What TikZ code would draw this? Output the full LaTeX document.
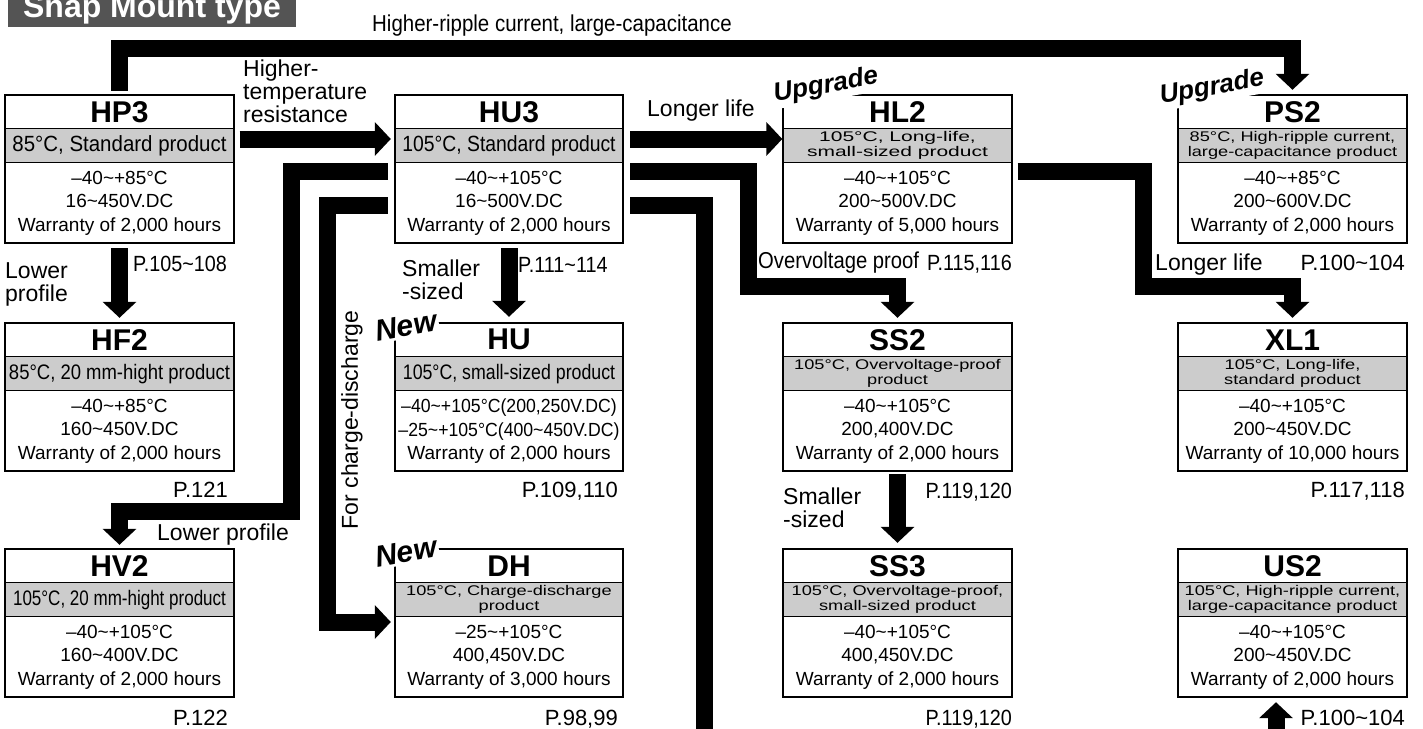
\documentclass[tikz,border=0pt]{standalone}
\usepackage{fontspec}
\setmainfont{Liberation Sans}
\usepackage{graphicx}
\usetikzlibrary{arrows.meta}

\definecolor{bandgray}{gray}{0.80}
\definecolor{tabgray}{gray}{0.33}

\newcommand{\wave}{\textasciitilde}
\newcommand{\cond}[2]{\scalebox{#1}[1]{#2}}
\newcommand{\duo}[3]{{\fontsize{14}{15}\selectfont\scalebox{#1}[1]{\begin{tabular}{@{}c@{}}#2\\#3\end{tabular}}}}

% one product box: name, centre, title, grey band, body
\newcommand{\capseries}[5]{%
  \node[capbox] (#1) at (#2) {};
  \fill[bandgray] ([yshift=-34pt]#1.north west) rectangle ([yshift=-68pt]#1.north east);
  \draw[rule] ([yshift=-34pt]#1.north west) -- ([yshift=-34pt]#1.north east);
  \draw[rule] ([yshift=-68pt]#1.north west) -- ([yshift=-68pt]#1.north east);
  \node[titletext] (#1 title) at ([yshift=-17pt]#1.north) {#3};
  \node[bandtext] (#1 band) at ([yshift=-51pt]#1.north) {#4};
  \node[bodytext] (#1 body) at ([yshift=40pt]#1.south) {#5};
  \draw[frame] (#1.north west) rectangle (#1.south east);
}

% slanted badge on a white patch: name, position, size, text
\newcommand{\stamp}[4]{%
  \node[badge, font=\fontsize{#3}{#3}\selectfont\bfseries\itshape] (#1) at (#2) {#4};
}

\tikzset{
  capbox/.style={minimum width=228pt, minimum height=148pt, inner sep=0pt, fill=white},
  frame/.style={line width=2.2pt},
  rule/.style={line width=0.9pt},
  titletext/.style={font=\fontsize{30}{30}\selectfont\bfseries, inner sep=0pt},
  bandtext/.style={font=\fontsize{21}{21}\selectfont, inner sep=0pt},
  bodytext/.style={font=\fontsize{19}{23.5}\selectfont, align=center, inner sep=0pt},
  lbl/.style={font=\fontsize{23}{23}\selectfont, inner sep=0pt},
  pageref/.style={font=\fontsize{22}{22}\selectfont, inner sep=0pt},
  heading/.style={font=\fontsize{32}{32}\selectfont\bfseries, text=white, inner sep=0pt},
  badge/.style={inner sep=2pt, rotate=10, fill=white},
  flow/.style={line width=17pt, line join=miter, -{Triangle[width=33pt,length=16pt]}},
  bar/.style={line width=17pt, line join=miter},
}

\begin{document}
\begin{tikzpicture}[x=1pt,y=1pt]
\path[use as bounding box] (0,0) rectangle (1423,-728);
\clip (0,0) rectangle (1423,-728);

% heading tab
\fill[tabgray] (8,8) rectangle (296,-27);
\node[heading, anchor=base] (heading) at (152,-17.5) {Snap Mount type};

% boxes
\capseries{hp3}{119.5,-169}{HP3}{\cond{0.93}{\fontsize{22}{22}\selectfont 85°C, Standard product}}
  {–40\wave+85°C\\16\wave450V.DC\\Warranty of 2,000 hours}
\capseries{hu3}{509,-169}{HU3}{\cond{0.88}{\fontsize{22}{22}\selectfont 105°C, Standard product}}
  {–40\wave+105°C\\16\wave500V.DC\\Warranty of 2,000 hours}
\capseries{hl2}{897.5,-169}{HL2}{\duo{1.5}{105°C, Long-life,}{small-sized product}}
  {–40\wave+105°C\\200\wave500V.DC\\Warranty of 5,000 hours}
\capseries{ps2}{1292.5,-169}{PS2}{\duo{1.3}{85°C, High-ripple current,}{large-capacitance product}}
  {–40\wave+85°C\\200\wave600V.DC\\Warranty of 2,000 hours}

\capseries{hf2}{119.5,-397}{HF2}{\cond{0.88}{85°C, 20 mm-hight product}}
  {–40\wave+85°C\\160\wave450V.DC\\Warranty of 2,000 hours}
\capseries{hu}{509,-397}{HU}{\cond{0.845}{105°C, small-sized product}}
  {\cond{0.93}{–40\wave+105°C(200,250V.DC)}\\\cond{0.93}{–25\wave+105°C(400\wave450V.DC)}\\Warranty of 2,000 hours}
\capseries{ss2}{897.5,-397}{SS2}{\duo{1.3}{105°C, Overvoltage-proof}{product}}
  {–40\wave+105°C\\200,400V.DC\\Warranty of 2,000 hours}
\capseries{xl1}{1292.5,-397}{XL1}{\duo{1.3}{105°C, Long-life,}{standard product}}
  {–40\wave+105°C\\200\wave450V.DC\\Warranty of 10,000 hours}

\capseries{hv2}{119.5,-623}{HV2}{\cond{0.81}{105°C, 20 mm-hight product}}
  {–40\wave+105°C\\160\wave400V.DC\\Warranty of 2,000 hours}
\capseries{dh}{509,-623}{DH}{\duo{1.3}{105°C, Charge-discharge}{product}}
  {–25\wave+105°C\\400,450V.DC\\Warranty of 3,000 hours}
\capseries{ss3}{897.5,-623}{SS3}{\duo{1.3}{105°C, Overvoltage-proof,}{small-sized product}}
  {–40\wave+105°C\\400,450V.DC\\Warranty of 2,000 hours}
\capseries{us2}{1292.5,-623}{US2}{\duo{1.3}{105°C, High-ripple current,}{large-capacitance product}}
  {–40\wave+105°C\\200\wave450V.DC\\Warranty of 2,000 hours}

% bends of the thick connectors
\coordinate (ripple) at (700,-48.5);
\coordinate (lowbend) at (291.5,-511);
\coordinate (ovbend) at (748,-286);
\coordinate (lifebend) at (1143.5,-286);
\coordinate (exitdown) at (704,-740);
\coordinate (usfeed) at (1276,-740);

% connectors
\draw[flow] ([yshift=4pt]hp3.north) |- (ripple) -| ([yshift=5pt]ps2.north);
\draw[flow] ([xshift=6pt,yshift=30pt]hp3.east) -- ([xshift=-4pt,yshift=30pt]hu3.west);
\draw[flow] ([yshift=-5pt]hp3.south) -- ([yshift=5pt]hf2.north);
\draw[flow] ([xshift=-7pt,yshift=-2.5pt]hu3.west) -| (lowbend) -| ([yshift=4pt]hv2.north);
\draw[flow] ([xshift=-7pt,yshift=-36pt]hu3.west) -| ([xshift=-67pt,yshift=1pt]dh.west) -- ([xshift=-4pt,yshift=1pt]dh.west);
\draw[flow] ([yshift=-5pt]hu3.south) -- ([yshift=6pt]hu.north);
\draw[flow] ([xshift=7pt,yshift=30pt]hu3.east) -- ([xshift=-1pt,yshift=30pt]hl2.west);
\draw[flow] ([xshift=7pt,yshift=-2.5pt]hu3.east) -| (ovbend) -| ([yshift=5pt]ss2.north);
\draw[bar] ([xshift=7pt,yshift=-36pt]hu3.east) -| (exitdown);
\draw[flow] ([xshift=6pt,yshift=-2.5pt]hl2.east) -| (lifebend) -| ([yshift=5pt]xl1.north);
\draw[flow] ([yshift=-3pt]ss2.south) -- ([yshift=6pt]ss3.north);
\draw[flow] (usfeed) -- ([xshift=-16.5pt,yshift=-5pt]us2.south);

% connector labels
\node[lbl, anchor=base west] (ripple text) at (372,-31.5) {\cond{0.89}{Higher-ripple current, large-capacitance}};
\node[lbl, anchor=north west, align=left] (temp text) at (243,-60) {Higher-\\temperature\\resistance};
\node[lbl, anchor=north west, align=left] (low text) at (5,-262) {Lower\\profile};
\node[lbl, anchor=north west, align=left] (small text) at (402,-260) {Smaller\\-sized};
\node[lbl, anchor=north west, align=left] (small2 text) at (783,-488) {Smaller\\-sized};
\node[lbl, anchor=base west] (life text) at (647,-116) {Longer life};
\node[lbl, anchor=base west] (life2 text) at (1155,-270) {Longer life};
\node[lbl, anchor=base west] (over text) at (758,-268) {\cond{0.88}{Overvoltage proof}};
\node[lbl, anchor=base west] (low2 text) at (157,-540) {Lower profile};
\node[lbl, rotate=90] (charge text) at (352,-420) {For charge-discharge};

% page references
\node[pageref, anchor=base west] (hp3 page) at (133,-271) {\cond{0.9}{P.105\wave108}};
\node[pageref, anchor=base west] (hu3 page) at (518,-272) {\cond{0.9}{P.111\wave114}};
\node[pageref, anchor=base east] (hl2 page) at (1012,-270) {\cond{0.9}{P.115,116}};
\node[pageref, anchor=base east] (ps2 page) at (1405,-270) {P.100\wave104};
\node[pageref, anchor=base east] (hf2 page) at (228,-497) {P.121};
\node[pageref, anchor=base east] (hu page) at (618,-497) {P.109,110};
\node[pageref, anchor=base east] (ss2 page) at (1012,-498) {\cond{0.9}{P.119,120}};
\node[pageref, anchor=base east] (xl1 page) at (1405,-497) {P.117,118};
\node[pageref, anchor=base east] (hv2 page) at (228,-725) {P.122};
\node[pageref, anchor=base east] (dh page) at (618,-725) {P.98,99};
\node[pageref, anchor=base east] (ss3 page) at (1012,-725) {\cond{0.9}{P.119,120}};
\node[pageref, anchor=base east] (us2 page) at (1405,-725) {P.100\wave104};

% badges
\stamp{hl2 up}{826,-86}{26}{Upgrade}
\stamp{ps2 up}{1212,-88}{26}{Upgrade}
\stamp{hu new}{406,-326}{30}{New}
\stamp{dh new}{406,-552}{30}{New}
\end{tikzpicture}
\end{document}
